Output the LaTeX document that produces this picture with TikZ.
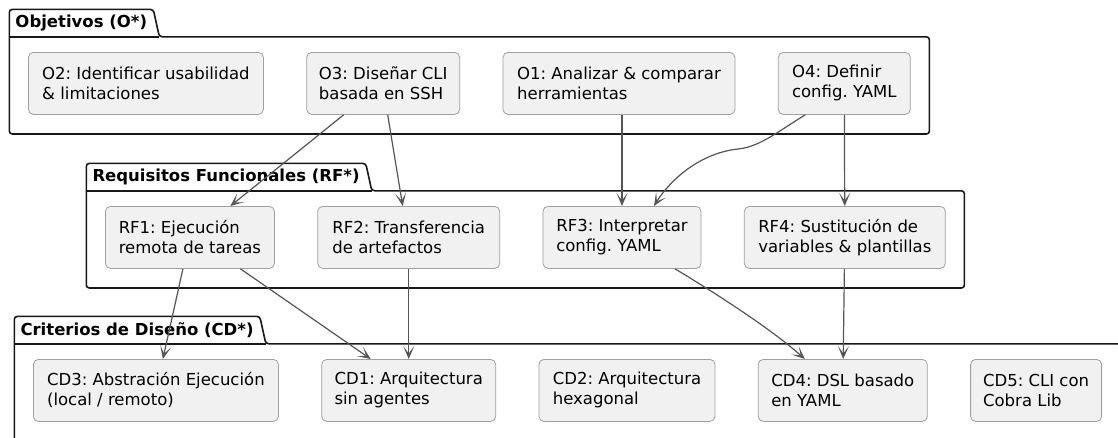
\documentclass[tikz,border=0pt]{standalone}
\usepackage{fontspec}
\setmainfont{DejaVu Sans}
\usepackage{xcolor}
\usepackage{tikz}
\usetikzlibrary{arrows.meta, positioning, fit, calc}
\newcommand{\boxfont}{\fontsize{16.5pt}{20pt}\selectfont\frenchspacing}
\definecolor{boxFill}{RGB}{241,241,241}
\definecolor{boxLine}{RGB}{160,160,160}
\definecolor{pkgLine}{RGB}{24,24,24}
\definecolor{arrowGray}{RGB}{85,85,85}
\tikzset{
  itembox/.style={
    draw=boxLine,
    fill=boxFill,
    line width=0.8pt,
    rounded corners=5pt,
    align=left,
    inner xsep=12pt,
    inner ysep=0pt,
    minimum height=62pt,
    font=\boxfont
  },
  pkgfit/.style={
    inner xsep=18.5pt,
    inner ysep=17pt,
    yshift=-2pt
  },
  pkgtitle/.style={
    anchor=south west,
    inner xsep=6pt,
    inner ysep=0pt,
    minimum height=27pt,
    font=\boxfont\bfseries
  },
  pkgline/.style={draw=pkgLine, line width=1.6pt, rounded corners=3pt},
  dep/.style={draw=arrowGray, line width=1.2pt, -{Stealth[length=13pt, width=11pt, inset=7.5pt]}}
}

\begin{document}
\begin{tikzpicture}[x=1pt, y=-1pt, node distance=42.5pt]
  \useasboundingbox (0,0) rectangle (1118,437);

  \node[itembox, anchor=north west, minimum width=235pt] (o2) at (28,52) {O2: Identificar usabilidad\\\& limitaciones};
  \node[itembox, right=of o2, minimum width=153pt] (o3) {O3: Diseñar CLI\\basada en SSH};
  \node[itembox, right=of o3, minimum width=232pt] (o1) {O1: Analizar \& comparar\\herramientas};
  \node[itembox, right=of o1, minimum width=132pt] (o4) {O4: Definir\\config. YAML};

  \node[itembox, anchor=north west, minimum width=169pt] (rf1) at (105,206) {RF1: Ejecución\\remota de tareas};
  \node[itembox, right=of rf1, minimum width=182pt] (rf2) {RF2: Transferencia\\de artefactos};
  \node[itembox, right=of rf2, minimum width=158pt] (rf3) {RF3: Interpretar\\config. YAML};
  \node[itembox, right=of rf3, minimum width=201pt] (rf4) {RF4: Sustitución de\\variables \& plantillas};

  \node[itembox, anchor=north west, minimum width=245pt] (cd3) at (33,359) {CD3: Abstración Ejecución\\(local / remoto)};
  \node[itembox, right=of cd3, minimum width=174pt] (cd1) {CD1: Arquitectura\\sin agentes};
  \node[itembox, right=of cd1, minimum width=176pt] (cd2) {CD2: Arquitectura\\hexagonal};
  \node[itembox, right=of cd2, minimum width=169pt] (cd4) {CD4: DSL basado\\en YAML};
  \node[itembox, right=of cd4, minimum width=131pt] (cd5) {CD5: CLI con\\Cobra Lib};

  \node[pkgfit, fit=(o2)(o3)(o1)(o4)] (objPkg) {};
  \node[pkgtitle] (objTab) at (objPkg.north west) {Objetivos (O*)};
  \draw[pkgline] (objPkg.south west) -- (objTab.north west) -- (objTab.north east) -- ($(objTab.south east)+(6,0)$) -- (objPkg.north east) -- (objPkg.south east) -- cycle;
  \draw[pkgline] (objPkg.north west) -- ($(objTab.south east)+(6,0)$);

  \node[pkgfit, fit=(rf1)(rf2)(rf3)(rf4)] (rfPkg) {};
  \node[pkgtitle] (rfTab) at (rfPkg.north west) {Requisitos Funcionales (RF*)};
  \draw[pkgline] (rfPkg.south west) -- (rfTab.north west) -- (rfTab.north east) -- ($(rfTab.south east)+(6,0)$) -- (rfPkg.north east) -- (rfPkg.south east) -- cycle;
  \draw[pkgline] (rfPkg.north west) -- ($(rfTab.south east)+(6,0)$);

  \node[pkgfit, fit=(cd3)(cd1)(cd2)(cd4)(cd5)] (cdPkg) {};
  \node[pkgtitle] (cdTab) at (cdPkg.north west) {Criterios de Diseño (CD*)};
  \draw[pkgline] (cdPkg.south west) -- (cdTab.north west) -- (cdTab.north east) -- ($(cdTab.south east)+(6,0)$) -- (cdPkg.north east) -- (cdPkg.south east) -- cycle;
  \draw[pkgline] (cdPkg.north west) -- ($(cdTab.south east)+(6,0)$);

  \draw[dep] ([xshift=-39.5pt]o3.south) -- ([xshift=40.5pt]rf1.north);
  \draw[dep] ([xshift=4.5pt]o3.south) -- ([xshift=-6pt]rf2.north);
  \draw[dep] (rf3.north |- o1.south) -- (rf3.north);
  \draw[dep] ([xshift=-39pt]o4.south) .. controls (780,130) and (760,147) .. (738,149) .. controls (700,153) and (670,180) .. ([xshift=32pt]rf3.north);
  \draw[dep] (o4) -- (rf4);
  \draw[dep] (rf1) -- (cd3);
  \draw[dep] ([xshift=50.5pt]rf1.south) -- ([xshift=-38pt]cd1.north);
  \draw[dep] (rf2) -- (cd1);
  \draw[dep] ([xshift=53pt]rf3.south) .. controls (715,293) and (770,328) .. ([xshift=-38pt]cd4.north);
  \draw[dep] (rf4) -- (cd4);
\end{tikzpicture}
\end{document}
